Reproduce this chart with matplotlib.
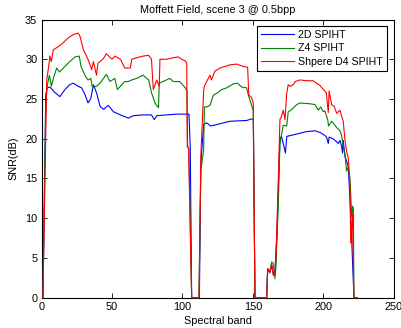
import matplotlib
matplotlib.use("Agg")
import matplotlib.pyplot as plt

plt.rcParams['font.family'] = ['Liberation Sans', 'DejaVu Sans']

title = "Moffett Field, scene 3 @ 0.5bpp"
xlabel = "Spectral band"
ylabel = "SNR(dB)"
labels = ["2D SPIHT", "Z4 SPIHT", "Shpere D4 SPIHT"]
colors = ["#0000ff", "#008000", "#ff0000"]

blue_band = [1, 3, 4, 6, 9.6, 13, 16.7, 20, 22.5, 26, 28.5, 31, 33, 35, 36.8, 39, 41.5, 44, 47.4,
             51, 56, 61.6, 65, 72, 78, 80, 81.7, 88.7, 96, 102, 104.6, 105.5, 106.5, 112, 113, 115,
             117, 120, 133.7, 145.5, 149, 150.2, 151.4, 159.7, 160.4, 162, 163.3, 164.4, 165.6, 167,
             168, 169.1, 170.2, 172, 173, 174, 176.5, 181, 188, 194, 197.5, 201.1, 202.2, 203.4, 204,
             206.9, 209.4, 210.5, 211.7, 212.9, 213.5, 214, 215.2, 216.4, 217.6, 218.8, 220, 221.6, 224]
blue_snr = [0, 25.5, 26.4, 26.5, 25.8, 25.3, 26.2, 26.8, 27.0, 26.6, 26.4, 25.5, 24.5, 25.1, 26.8,
            25.8, 24.1, 23.7, 24.2, 23.4, 23.0, 22.6, 22.9, 23.0, 23.0, 22.4, 22.9, 23.0, 23.1, 23.1,
            23.1, 19.0, 0, 0, 17.0, 21.8, 22.0, 21.6, 22.2, 22.3, 22.5, 22.4, 0, 0, 3.5, 3.2, 4.0, 3.0,
            3.5, 8.0, 14.0, 19.9, 20.3, 19.0, 18.2, 20.3, 20.4, 20.6, 20.9, 21.0, 20.8, 20.4, 20.2,
            19.4, 20.2, 20.0, 19.6, 19.4, 19.8, 19.0, 18.2, 19.8, 17.8, 17.2, 16.5, 12.3, 7.3, 0, 0]

green_band = [1, 3, 4, 5.6, 7, 8.4, 10.8, 12.7, 15.5, 20, 23.8, 26.8, 28, 31, 33, 35, 36, 39, 41.5,
              46, 48.6, 52, 53.8, 57, 59, 61.6, 64, 67.5, 72, 76, 78, 80.5, 83, 83.5, 88.7, 91, 93.5,
              98, 102, 103.2, 103.6, 104.5, 106.5, 111.7, 113, 115, 115.5, 117, 119.5, 121.9, 124.2,
              127.8, 131.3, 136, 138.9, 142, 145.5, 146.7, 149, 150.2, 151.4, 159.7, 160.4, 162,
              163.3, 164.4, 165.6, 166.3, 168, 169.1, 171.5, 173.9, 175, 177, 181, 183.3, 190.4, 194,
              196.3, 198, 199.9, 201, 203, 203.6, 205.8, 209.4, 211.7, 212.9, 214, 215.2, 216.4,
              217.6, 218.8, 220, 220.7, 221.2, 221.6, 224]
green_snr = [0, 24.0, 26.6, 28.0, 26.6, 27.6, 28.9, 28.4, 28.9, 29.7, 30.3, 30.4, 29.1, 27.9, 27.4,
             27.6, 26.5, 26.6, 27.0, 28.1, 27.2, 27.6, 26.2, 26.8, 27.2, 27.2, 27.4, 27.6, 28.0, 27.4,
             25.8, 24.5, 23.9, 27.0, 27.4, 27.6, 27.2, 27.2, 26.4, 26.0, 19.0, 18.8, 0, 0, 16.0, 18.6,
             24.0, 24.0, 24.2, 25.5, 25.7, 26.2, 26.4, 26.9, 27.0, 26.5, 26.4, 25.5, 24.2, 23.5, 0, 0,
             3.5, 3.4, 4.5, 4.3, 2.4, 4.0, 12.0, 19.4, 21.7, 21.6, 23.4, 23.6, 24.3, 24.5, 24.4, 24.3,
             23.6, 24.0, 23.4, 23.5, 22.4, 21.6, 22.2, 21.4, 21.0, 20.4, 19.1, 18.1, 15.9, 16.5, 15.0,
             10.2, 11.5, 11.0, 0, 0]

red_band = [1, 3.7, 5, 6, 7, 8.4, 12, 15.5, 19, 22.5, 26, 27.3, 29.7, 33, 35.6, 36.8, 39, 40, 44,
            46, 50, 52, 56, 59, 63, 64, 67.5, 72, 76, 78, 79.3, 81.7, 83.5, 84, 88.7, 93.5, 97, 99.4,
            102, 103, 103.4, 104.3, 106.5, 111.7, 113, 115, 115.5, 116, 119.5, 120.5, 123, 126.6,
            133.7, 138.4, 143, 146.2, 147, 149, 150.2, 151.4, 159.7, 160.4, 162, 163.3, 164.4, 165.6,
            166.3, 168, 169.1, 170.2, 171.5, 172.7, 173.9, 175, 176.5, 178.6, 180, 183.3, 188, 192.8,
            195, 197.5, 199.9, 202, 203.4, 204, 205.8, 207.5, 209.4, 211.7, 212.9, 214, 215.2, 216.4,
            217.6, 218.8, 219.3, 220.5, 221.6, 224]
red_snr = [0, 27.4, 29.0, 30.4, 29.7, 31.2, 31.6, 32.1, 32.7, 33.1, 33.3, 32.9, 31.2, 30.0,
           28.7, 29.7, 28.0, 29.5, 30.1, 30.7, 30.0, 30.4, 30.0, 28.9, 28.9, 30.0, 30.2, 30.4, 30.5,
           30.0, 26.2, 27.4, 26.6, 30.0, 30.0, 30.2, 30.3, 30.0, 29.8, 29.5, 19.0, 18.8, 0, 0, 17.8,
           26.0, 26.6, 26.8, 28.0, 27.4, 28.5, 28.9, 29.3, 29.4, 29.1, 29.0, 25.5, 25.2, 24.5, 0, 0,
           3.7, 3.1, 4.2, 2.8, 3.0, 5.0, 15.1, 22.4, 22.8, 23.6, 22.4, 25.7, 26.8, 26.6, 26.8, 27.2,
           27.4, 27.3, 27.3, 27.0, 26.7, 26.2, 25.8, 23.3, 26.0, 24.3, 24.1, 23.2, 23.6, 22.8, 22.2,
           19.9, 18.4, 17.6, 14.0, 6.9, 10.6, 0, 0]

xticks = [0, 50, 100, 150, 200, 250]
yticks = [0, 5, 10, 15, 20, 25, 30, 35]

fig = plt.figure(figsize=(4.01, 3.28), dpi=100)
ax = fig.add_axes([0.1035, 0.0924, 0.879, 0.848])

series = [(blue_band, blue_snr), (green_band, green_snr), (red_band, red_snr)]
for (b, s), lab, c in zip(series, labels, colors):
    ax.plot(b, s, color=c, lw=0.8, label=lab, clip_on=False, zorder=3)

ax.set_xlim(0, 250)
ax.set_ylim(0, 35)
ax.set_xticks(xticks)
ax.set_yticks(yticks)
ax.tick_params(direction='in', length=3.5, width=0.6, top=True, right=True, labelsize=7.8, pad=3)
for sp in ax.spines.values():
    sp.set_linewidth(0.8)
    sp.set_zorder(2.5)
ax.set_title(title, fontsize=7.8, pad=5)
ax.set_xlabel(xlabel, fontsize=7.8, labelpad=3)
ax.set_ylabel(ylabel, fontsize=7.8, labelpad=5)

leg = ax.legend(loc='upper right', bbox_to_anchor=(0.979, 0.977), borderaxespad=0,
                fontsize=7.6, fancybox=False, framealpha=1, edgecolor='black',
                handlelength=3.2, handletextpad=0.35, labelspacing=0.35, borderpad=0.35)
leg.get_frame().set_linewidth(0.8)

fig.savefig("out.png", dpi=100)
